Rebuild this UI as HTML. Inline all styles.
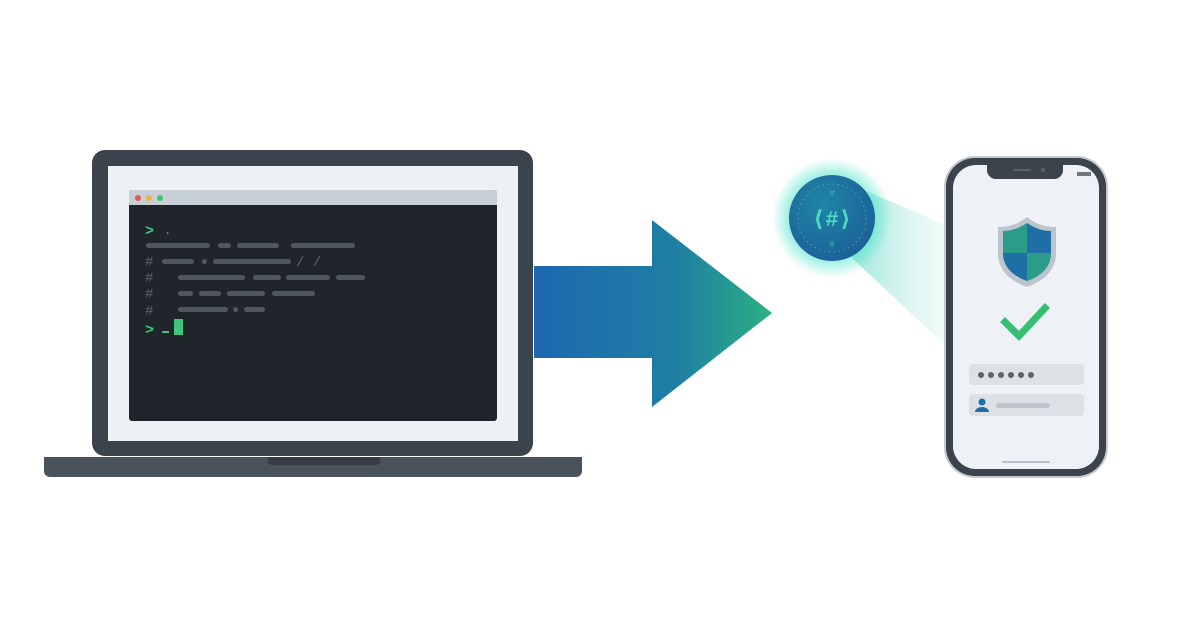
<!DOCTYPE html>
<html><head><meta charset="utf-8"><style>
html,body{margin:0;padding:0;background:#fff;}
svg{display:block;font-family:"Liberation Mono",monospace;}
</style></head><body>
<svg width="1200" height="627" viewBox="0 0 1200 627" xmlns="http://www.w3.org/2000/svg">
<defs>
<linearGradient id="ag" x1="0" x2="1" y1="0" y2="0">
<stop offset="0" stop-color="#1d68b0"/><stop offset="0.6" stop-color="#1f7fa3"/><stop offset="1" stop-color="#2bb083"/>
</linearGradient>
<linearGradient id="beam" x1="0" x2="1" y1="0" y2="0">
<stop offset="0" stop-color="#4fd6c0" stop-opacity="0.6"/><stop offset="1" stop-color="#c9eee8" stop-opacity="0.25"/>
</linearGradient>
<radialGradient id="coin" cx="0.4" cy="0.35" r="0.7">
<stop offset="0" stop-color="#1f86a6"/><stop offset="1" stop-color="#1b5f98"/>
</radialGradient>
<radialGradient id="glow" cx="0.5" cy="0.5" r="0.5">
<stop offset="0.6" stop-color="#3de0c4" stop-opacity="0.7"/><stop offset="1" stop-color="#3de0c4" stop-opacity="0"/>
</radialGradient>
</defs>
<!-- laptop -->
<rect x="92" y="150" width="441" height="306" rx="13" fill="#3b434d"/>
<rect x="108" y="166" width="410" height="275" fill="#eef1f4"/>
<rect x="129" y="190" width="368" height="231" rx="3" fill="#1f252b"/>
<path d="M132 190h362a3 3 0 0 1 3 3v12h-368v-12a3 3 0 0 1 3-3z" fill="#c9cfd6"/>
<circle cx="138" cy="198" r="3" fill="#e05a4f"/><circle cx="149" cy="198" r="3" fill="#e7b63c"/><circle cx="160" cy="198" r="3" fill="#3cc46c"/>
<path d="M44 457h538v14a6 6 0 0 1-6 6h-526a6 6 0 0 1-6-6z" fill="#4a525c"/>
<path d="M268 457h112v4a4 4 0 0 1-4 4h-104a4 4 0 0 1-4-4z" fill="#353c45"/>
<g fill="#3ec77c" font-size="15" font-weight="bold"><text x="145" y="235">&gt;</text><text x="145" y="334">&gt;</text></g>
<text x="164" y="234" fill="#8a939d" font-size="12">.</text>
<rect x="162" y="331" width="7" height="2" fill="#3ec77c"/>
<rect x="174" y="319" width="9" height="16" fill="#3ec77c"/>
<g fill="#5e666f" font-size="14"><text x="145" y="266">#</text><text x="145" y="282">#</text><text x="145" y="298">#</text><text x="145" y="315">#</text><text x="296" y="266">/ /</text></g>
<g fill="#50585f">
<rect x="146" y="243" width="64" height="5" rx="2.5"/><rect x="218" y="243" width="13" height="5" rx="2.5"/><rect x="237" y="243" width="42" height="5" rx="2.5"/><rect x="291" y="243" width="64" height="5" rx="2.5"/>
<rect x="162" y="259" width="32" height="5" rx="2.5"/><rect x="202" y="259" width="5" height="5" rx="2.5"/><rect x="213" y="259" width="78" height="5" rx="2.5"/>
<rect x="178" y="275" width="67" height="5" rx="2.5"/><rect x="253" y="275" width="28" height="5" rx="2.5"/><rect x="286" y="275" width="44" height="5" rx="2.5"/><rect x="336" y="275" width="29" height="5" rx="2.5"/>
<rect x="178" y="291" width="15" height="5" rx="2.5"/><rect x="199" y="291" width="22" height="5" rx="2.5"/><rect x="227" y="291" width="38" height="5" rx="2.5"/><rect x="272" y="291" width="43" height="5" rx="2.5"/>
<rect x="178" y="307" width="50" height="5" rx="2.5"/><rect x="233" y="307" width="5" height="5" rx="2.5"/><rect x="244" y="307" width="21" height="5" rx="2.5"/>
</g>
<!-- arrow -->
<path d="M534 266H652V220L772 313L652 407V358H534Z" fill="url(#ag)"/>
<!-- beam -->
<polygon points="845,182 945,225 945,345 850,256" fill="url(#beam)"/>
<circle cx="832" cy="218" r="60" fill="url(#glow)"/>
<circle cx="832" cy="218" r="43" fill="url(#coin)"/>
<circle cx="832" cy="218" r="34" fill="none" stroke="#5fc9c0" stroke-opacity="0.5" stroke-dasharray="2 3"/>
<text x="832" y="226" text-anchor="middle" fill="#4fd8c2" font-size="22" font-weight="bold">⟨#⟩</text>
<text x="832" y="196" text-anchor="middle" fill="#3fb8b0" font-size="9">#</text>
<text x="832" y="247" text-anchor="middle" fill="#3fb8b0" font-size="9">#</text>
<!-- phone -->
<rect x="944" y="156" width="164" height="322" rx="31" fill="#c4cad2"/>
<rect x="946" y="158" width="160" height="318" rx="29" fill="#3b434d"/>
<rect x="953" y="165" width="146" height="304" rx="23" fill="#eef1f5"/>
<path d="M987 165h76v5a9 9 0 0 1-9 9h-58a9 9 0 0 1-9-9z" fill="#3b434d"/>
<rect x="1013" y="169" width="18" height="2" rx="1" fill="#5b636c"/><circle cx="1043" cy="170" r="2" fill="#5b636c"/>
<rect x="1077" y="172" width="14" height="4" fill="#3b434d" opacity="0.7"/>
<rect x="1002" y="461" width="48" height="2" rx="1" fill="#b9bfc7"/>
<!-- shield -->
<path d="M1027 217 C1017 225 1008 227 998 227 V253 C998 270 1010 281 1027 287 C1044 281 1056 270 1056 253 V227 C1046 227 1037 225 1027 217Z" fill="#bcc4cd"/>
<path d="M1027 223 C1018 229 1011 231 1003 231 V253 C1003 267 1013 276 1027 281 C1041 276 1051 267 1051 253 V231 C1043 231 1036 229 1027 223Z" fill="#1f6fa6"/>
<path d="M1027 223 C1018 229 1011 231 1003 231 V253 H1027Z M1027 253 H1051 C1051 267 1041 276 1027 281Z" fill="#2a9c8a"/>
<path d="M1005 322 L1019 336 L1045 308" fill="none" stroke="#34c071" stroke-width="7" stroke-linecap="square"/>
<rect x="969" y="364" width="115" height="21" rx="4" fill="#dde1e6"/>
<g fill="#5b636c"><circle cx="981" cy="375" r="3"/><circle cx="991" cy="375" r="3"/><circle cx="1001" cy="375" r="3"/><circle cx="1011" cy="375" r="3"/><circle cx="1021" cy="375" r="3"/><circle cx="1031" cy="375" r="3"/></g>
<rect x="969" y="394" width="115" height="22" rx="4" fill="#dde1e6"/>
<circle cx="982" cy="402" r="3.5" fill="#1f6fa6"/><path d="M975 412a7 5 0 0 1 14 0z" fill="#1f6fa6"/>
<rect x="996" y="403" width="54" height="5" rx="2.5" fill="#bfc5cc"/>
</svg>
</body></html>
